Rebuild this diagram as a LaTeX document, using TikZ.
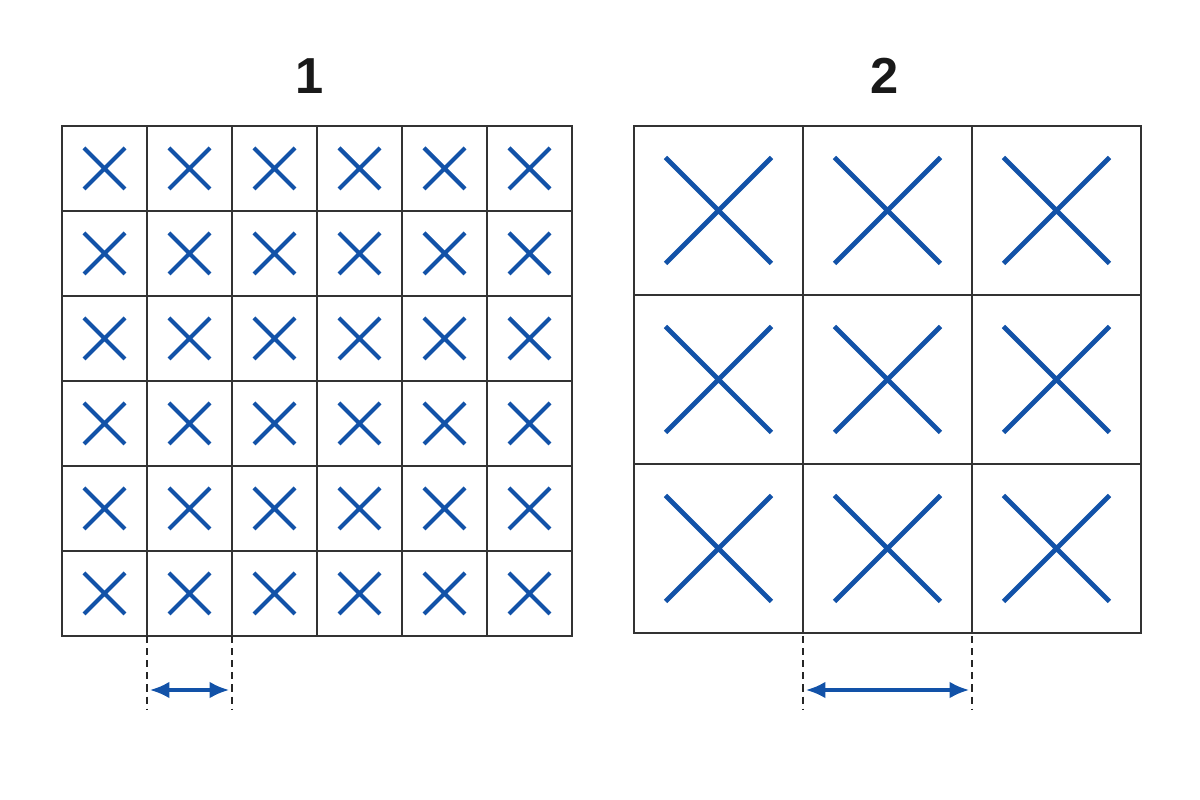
\documentclass[tikz,border=0pt]{standalone}
\usepackage{fontspec}
\setmainfont{Liberation Sans}
\usetikzlibrary{arrows.meta,calc}
\definecolor{crossblue}{RGB}{18,82,168}
\tikzstyle{cell} = [draw=black!80, line width=0.75pt]
\tikzstyle{cross} = [draw=crossblue, line width=1.35pt]
\tikzstyle{guide} = [draw=black!85, line width=0.8pt, dash pattern=on 2pt off 1.45pt]
\tikzstyle{span} = [draw=crossblue, line width=0.95pt, shorten <=0.8pt, shorten >=0.8pt, {Latex[length=5.6pt,width=4.8pt]}-{Latex[length=5.6pt,width=4.8pt]}]
\tikzstyle{title} = [font=\fontsize{14.4}{17}\selectfont\bfseries, text=black!90]

\begin{document}
\begin{tikzpicture}
\useasboundingbox (0,0) rectangle (12,8);
% Titles
	\node [title] (t1) at (3.10,7.24) {1};
	\node [title] (t2) at (8.85,7.24) {2};
% Grid 1
	\foreach \i in {0,...,5}
	  \foreach \j in {0,...,5} {
	    \draw [cell] (0.62+0.85*\i,6.74-0.85*\j) rectangle ++(0.85,-0.85);
	    \draw [cross, line width=1.2pt] (1.045+0.85*\i-0.205,6.315-0.85*\j+0.205) -- ++(0.41,-0.41)
	      (1.045+0.85*\i-0.205,6.315-0.85*\j-0.205) -- ++(0.41,0.41);
	  }
% Grid 2
	\foreach \i in {0,1,2}
	  \foreach \j in {0,1,2} {
	    \draw [cell] (6.34+1.69*\i,6.74-1.69*\j) rectangle ++(1.69,-1.69);
	    \draw [cross] (7.185+1.69*\i-0.53,5.895-1.69*\j+0.53) -- ++(1.06,-1.06)
	      (7.185+1.69*\i-0.53,5.895-1.69*\j-0.53) -- ++(1.06,1.06);
	  }
% Dimensions
	\coordinate (a1) at (1.47,1.64);
	\coordinate (a2) at (2.32,1.64);
	\coordinate (a1e) at (1.47,0.90);
	\coordinate (a2e) at (2.32,0.90);
	\coordinate (b1) at (8.03,1.64);
	\coordinate (b2) at (9.72,1.64);
	\coordinate (b1e) at (8.03,0.90);
	\coordinate (b2e) at (9.72,0.90);
	\draw [guide] (a1) -- (a1e);
	\draw [guide] (a2) -- (a2e);
	\draw [guide] (b1) -- (b1e);
	\draw [guide] (b2) -- (b2e);
	\draw [span] ($(a1)!0.73!(a1e)$) -- ($(a2)!0.73!(a2e)$);
	\draw [span] ($(b1)!0.73!(b1e)$) -- ($(b2)!0.73!(b2e)$);
\end{tikzpicture}
\end{document}
